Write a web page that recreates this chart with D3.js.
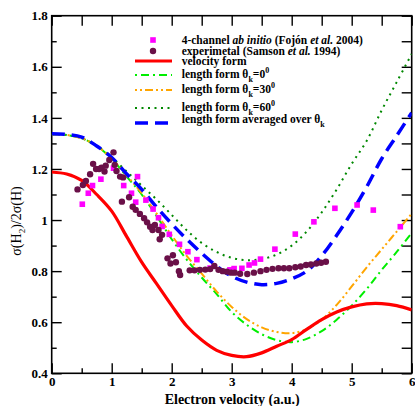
<!DOCTYPE html>
<html>
<head>
<meta charset="utf-8">
<script src="https://d3js.org/d3.v7.min.js"></script>
<style>
  body { margin: 0; background: #fff; }
  svg text { font-family: "Liberation Serif", "Times New Roman", serif; }
  .tick text { font-size: 13px; font-weight: bold; }
  .leg { font-size: 11.5px; font-weight: bold; }
</style>
</head>
<body>
<script>
// electron velocity grid (a.u.) for the theory curves
var vGrid = [0, 0.25, 0.5, 0.75, 1.0, 1.25, 1.5, 1.75, 2.0, 2.25, 2.5, 2.75, 3.0,
             3.25, 3.5, 3.75, 4.0, 4.25, 4.5, 4.75, 5.0, 5.25, 5.5, 5.75, 6.0];

var velocityForm = [1.188, 1.18, 1.155, 1.10, 1.035, 0.935, 0.835, 0.75, 0.665, 0.585, 0.53, 0.49, 0.47,
                    0.465, 0.48, 0.506, 0.532, 0.572, 0.61, 0.64, 0.66, 0.672, 0.673, 0.665, 0.648];
var lengthTheta0 = [1.335, 1.333, 1.32, 1.29, 1.24, 1.17, 1.10, 1.015, 0.925, 0.845, 0.775, 0.71, 0.64,
                    0.59, 0.553, 0.53, 0.522, 0.535, 0.565, 0.61, 0.665, 0.73, 0.805, 0.875, 0.95];
var lengthTheta30 = [1.335, 1.333, 1.32, 1.29, 1.24, 1.175, 1.105, 1.025, 0.94, 0.86, 0.79, 0.72, 0.66,
                     0.612, 0.58, 0.562, 0.557, 0.573, 0.61, 0.668, 0.74, 0.815, 0.885, 0.955, 1.025];
var lengthTheta60 = [1.335, 1.333, 1.32, 1.29, 1.245, 1.19, 1.135, 1.08, 1.02, 0.96, 0.91, 0.875, 0.852,
                     0.843, 0.847, 0.865, 0.9, 0.955, 1.03, 1.12, 1.22, 1.31, 1.43, 1.54, 1.65];
var lengthAveraged = [1.338, 1.335, 1.325, 1.29, 1.245, 1.18, 1.12, 1.05, 0.985, 0.925, 0.87, 0.82, 0.78,
                      0.757, 0.747, 0.752, 0.77, 0.80, 0.86, 0.94, 1.03, 1.13, 1.24, 1.33, 1.42];

// 4-channel ab initio (squares)
var abInitioV = [0.51, 0.61, 0.68, 0.82, 1.03, 1.2, 1.33, 1.4, 1.43, 1.57, 1.69, 1.78, 1.84, 1.96, 2.13,
                 2.27, 2.42, 2.64, 2.97, 3.04, 3.17, 3.29, 3.38, 3.48, 3.72, 4.06, 4.37, 4.72, 5.09, 5.36, 5.81];
var abInitioY = [1.062, 1.105, 1.135, 1.16, 1.203, 1.135, 1.105, 1.07, 1.17, 1.078, 1.043, 1.009, 0.975, 0.944, 0.905,
                 0.876, 0.845, 0.812, 0.805, 0.81, 0.811, 0.824, 0.832, 0.847, 0.886, 0.945, 0.993, 1.046, 1.059, 1.039, 0.974];

// experiment, Samson et al. 1994 (circles)
var exptV = [0.43, 0.52, 0.57, 0.64, 0.69, 0.74, 0.79, 0.83, 0.88, 0.9, 0.96, 1.03, 1.05, 1.08, 1.14, 1.19,
             1.17, 1.29, 1.35, 1.4, 1.47, 1.54, 1.59, 1.64, 1.68, 1.72, 1.78, 1.8, 1.84, 1.93, 2.02, 1.98,
             2.07, 2.12, 2.14, 2.30, 2.38, 2.47, 2.56, 2.64, 2.71, 2.78, 2.85, 2.92, 2.99, 3.05, 3.14, 3.26,
             3.37, 3.48, 3.58, 3.68, 3.78, 3.87, 3.96, 4.06, 4.15, 4.24, 4.32, 4.41, 4.49, 4.57];
var exptY = [1.12, 1.137, 1.153, 1.179, 1.22, 1.2, 1.2, 1.205, 1.19, 1.213, 1.235, 1.265, 1.216, 1.192, 1.17, 1.167,
             1.072, 1.089, 1.052, 1.04, 1.024, 1.007, 0.991, 0.974, 0.961, 0.981, 0.961, 0.925, 0.942, 0.85, 0.862, 0.83,
             0.835, 0.80, 0.785, 0.803, 0.803, 0.805, 0.806, 0.808, 0.82, 0.805, 0.80, 0.798, 0.794, 0.794, 0.79, 0.789,
             0.794, 0.80, 0.805, 0.809, 0.811, 0.811, 0.811, 0.815, 0.818, 0.824, 0.826, 0.83, 0.833, 0.837];

var xTicks = [0, 1, 2, 3, 4, 5, 6];
var yTicks = [0.4, 0.6, 0.8, 1, 1.2, 1.4, 1.6, 1.8];

var W = 415, H = 406;
var box = { left: 51.7, right: 411.7, top: 15.7, bottom: 373.3 };

var svg = d3.select("body").append("svg")
    .attr("width", W)
    .attr("height", H);

var x = d3.scaleLinear().domain([0, 6]).range([box.left, box.right]);
var y = d3.scaleLinear().domain([0.4, 1.8]).range([box.bottom, box.top]);

svg.append("clipPath").attr("id", "clip")
  .append("rect")
    .attr("x", box.left).attr("y", box.top)
    .attr("width", box.right - box.left).attr("height", box.bottom - box.top);

// minor ticks (no labels); top and right get full length ticks everywhere
svg.append("g")
    .attr("transform", "translate(0," + box.bottom + ")")
    .call(d3.axisTop(x).tickValues([0.5, 1.5, 2.5, 3.5, 4.5, 5.5]).tickSize(5).tickFormat(""))
    .call(function(g) { g.select(".domain").remove(); });
svg.append("g")
    .attr("transform", "translate(" + box.left + ",0)")
    .call(d3.axisRight(y).tickValues([0.5, 0.7, 0.9, 1.1, 1.3, 1.5, 1.7]).tickSize(5).tickFormat(""))
    .call(function(g) { g.select(".domain").remove(); });
svg.append("g")
    .attr("transform", "translate(0," + box.top + ")")
    .call(d3.axisBottom(x).tickValues([0, 0.5, 1, 1.5, 2, 2.5, 3, 3.5, 4, 4.5, 5, 5.5, 6]).tickSize(10).tickFormat(""))
    .call(function(g) { g.select(".domain").remove(); });
svg.append("g")
    .attr("transform", "translate(" + box.right + ",0)")
    .call(d3.axisLeft(y).tickValues([0.4, 0.5, 0.6, 0.7, 0.8, 0.9, 1, 1.1, 1.2, 1.3, 1.4, 1.5, 1.6, 1.7, 1.8]).tickSize(10).tickFormat(""))
    .call(function(g) { g.select(".domain").remove(); });

// major ticks with labels, drawn inward
var xAxis = svg.append("g")
    .attr("transform", "translate(0," + box.bottom + ")")
    .call(d3.axisBottom(x).tickValues(xTicks).tickSizeInner(-10).tickSizeOuter(0).tickFormat(d3.format("d")));
xAxis.select(".domain").remove();
xAxis.selectAll(".tick text").attr("y", 3).attr("dy", "0.75em");

var yAxis = svg.append("g")
    .attr("transform", "translate(" + box.left + ",0)")
    .call(d3.axisLeft(y).tickValues(yTicks).tickSizeInner(-10).tickSizeOuter(0)
      .tickFormat(function(d) { return d === 1 ? "1" : d3.format(".1f")(d); }));
yAxis.select(".domain").remove();
yAxis.selectAll(".tick text").attr("x", -4);

svg.selectAll(".tick line").attr("stroke", "#000").attr("stroke-width", 1.4);

// frame
svg.append("rect")
    .attr("x", box.left).attr("y", box.top)
    .attr("width", box.right - box.left).attr("height", box.bottom - box.top)
    .attr("fill", "none").attr("stroke", "#000").attr("stroke-width", 1.6);

var plot = svg.append("g").attr("clip-path", "url(#clip)");

var line = d3.line()
    .x(function(d, i) { return x(vGrid[i]); })
    .y(function(d) { return y(d); })
    .curve(d3.curveCatmullRom.alpha(0.5));

var series = [
  { v: lengthTheta60, color: "#008800", width: 2, dash: "2,4.5" },
  { v: lengthTheta0, color: "#00ee00", width: 2, dash: "8,4,2,4" },
  { v: lengthTheta30, color: "#ffa500", width: 2, dash: "8,3,2,3,2,3" },
  { v: lengthAveraged, color: "#0000ff", width: 3.5, dash: "13,7" },
  { v: velocityForm, color: "#ff0000", width: 3.2, dash: null }
];

series.forEach(function(s) {
  plot.append("path")
      .datum(s.v)
      .attr("d", line)
      .attr("fill", "none")
      .attr("stroke", s.color)
      .attr("stroke-width", s.width)
      .attr("stroke-dasharray", s.dash);
});

plot.selectAll(".sq")
  .data(abInitioV)
  .enter().append("rect")
    .attr("class", "sq")
    .attr("x", function(d) { return x(d) - 2.8; })
    .attr("y", function(d, i) { return y(abInitioY[i]) - 2.8; })
    .attr("width", 5.6).attr("height", 5.6)
    .attr("fill", "#ff00ff");

plot.selectAll(".dot")
  .data(exptV)
  .enter().append("circle")
    .attr("class", "dot")
    .attr("cx", function(d) { return x(d); })
    .attr("cy", function(d, i) { return y(exptY[i]); })
    .attr("r", 3.2)
    .attr("fill", "#6a1048");

// legend
var lx0 = 135, lx1 = 172, tx = 181.7;
var leg = svg.append("g");

leg.append("rect").attr("x", 153 - 2.8).attr("y", 40 - 2.8).attr("width", 5.6).attr("height", 5.6).attr("fill", "#ff00ff");
leg.append("circle").attr("cx", 153).attr("cy", 51).attr("r", 3.2).attr("fill", "#6a1048");

var legLines = [
  { y: 61, color: "#ff0000", width: 3.2, dash: null },
  { y: 75, color: "#00ee00", width: 2, dash: "2,4,8,4" },
  { y: 90, color: "#ffa500", width: 2, dash: "2,3,2,3,8,3" },
  { y: 108, color: "#008800", width: 2, dash: "2,4.5" },
  { y: 123, color: "#0000ff", width: 3.5, dash: "13,7" }
];
legLines.forEach(function(l) {
  leg.append("line")
      .attr("x1", lx0).attr("x2", lx1).attr("y1", l.y).attr("y2", l.y)
      .attr("stroke", l.color).attr("stroke-width", l.width)
      .attr("stroke-dasharray", l.dash);
});

function legText(yc) {
  return leg.append("text").attr("class", "leg").attr("x", tx).attr("y", yc + 4);
}

var t1 = legText(40);
t1.append("tspan").text("4-channel ");
t1.append("tspan").attr("font-style", "italic").text("ab initio");
t1.append("tspan").text(" (Fojón ");
t1.append("tspan").attr("font-style", "italic").text("et al.");
t1.append("tspan").text(" 2004)");

var t2 = legText(51);
t2.append("tspan").text("experimetal (Samson ");
t2.append("tspan").attr("font-style", "italic").text("et al.");
t2.append("tspan").text(" 1994)");

legText(61).text("velocity form");

function thetaText(yc, deg) {
  var t = legText(yc);
  t.append("tspan").text("length form θ");
  t.append("tspan").attr("font-size", "8px").attr("dy", 4).text("k");
  t.append("tspan").attr("dy", -4).text("=" + deg);
  t.append("tspan").attr("font-size", "8px").attr("dy", -5).text("0");
}
thetaText(74, "0");
thetaText(89, "30");
thetaText(107, "60");

var t7 = legText(119);
t7.append("tspan").text("length form averaged over θ");
t7.append("tspan").attr("font-size", "8px").attr("dy", 4).text("k");

// axis titles
svg.append("text")
    .attr("x", (box.left + box.right) / 2 + 0.5)
    .attr("y", 404)
    .attr("text-anchor", "middle")
    .attr("font-size", "14px")
    .attr("font-weight", "bold")
    .text("Electron velocity (a.u.)");

var yl = svg.append("text")
    .attr("transform", "translate(21,221) rotate(-90)")
    .attr("text-anchor", "middle")
    .attr("font-size", "14px");
yl.append("tspan").text("σ(H");
yl.append("tspan").attr("font-size", "9px").attr("dy", 4).text("2");
yl.append("tspan").attr("dy", -4).text(")/2σ(H)");
</script>
</body>
</html>
